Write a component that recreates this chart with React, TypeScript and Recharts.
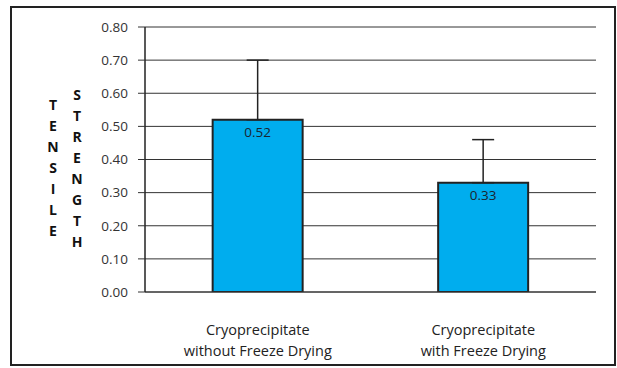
import React from 'react';
import { BarChart, Bar, XAxis, YAxis, CartesianGrid, ErrorBar, LabelList } from 'recharts';

const categories = ['Cryoprecipitate\nwithout Freeze Drying', 'Cryoprecipitate\nwith Freeze Drying'];
const strength = [0.52, 0.33];
const upperError = [0.18, 0.13];
const yTicks = [0, 0.1, 0.2, 0.3, 0.4, 0.5, 0.6, 0.7, 0.8];
const yLabelCols = ['TENSILE', 'STRENGTH'];

const data = categories.map((name, i) => ({
  name,
  value: strength[i],
  err: [0, upperError[i]],
}));

const CategoryTick = (props: any) => {
  const { x, y, payload } = props;
  const lines = String(payload.value).split('\n');
  return (
    <g transform={`translate(${x},${y})`}>
      {lines.map((line, i) => (
        <text
          key={i}
          x={0}
          y={35 + i * 21}
          textAnchor="middle"
          fill="#222"
          fontSize={14.5}
          fontFamily="'Open Sans', sans-serif"
        >
          {line}
        </text>
      ))}
    </g>
  );
};

// stacked letters, one column per word
const StackedLabel = () => (
  <g>
    {yLabelCols.map((word, c) =>
      word.split('').map((ch, i) => (
        <text
          key={`${c}-${i}`}
          x={c === 0 ? 53 : 77}
          y={(c === 0 ? 109.5 : 99.5) + i * 21}
          textAnchor="middle"
          fontSize={14}
          fontWeight="bold"
          fill="#111"
          fontFamily="'Open Sans', sans-serif"
        >
          {ch}
        </text>
      ))
    )}
  </g>
);

export default function App() {
  return (
    <div style={{ position: 'absolute', left: 0, top: 0, width: 617, height: 368, background: '#fff' }}>
      <div
        style={{
          position: 'absolute',
          left: 10,
          top: 6,
          width: 602,
          height: 356,
          border: '2px solid #222',
        }}
      />
      <div style={{ position: 'absolute', left: 0, top: 0 }}>
        <BarChart
          width={617}
          height={368}
          data={data}
          margin={{ top: 27, right: 21, left: 0, bottom: 16 }}
          barCategoryGap="30%"
        >
          <CartesianGrid vertical={false} stroke="#333" strokeWidth={1} />
          <XAxis
            dataKey="name"
            height={60}
            tick={<CategoryTick />}
            tickLine={false}
            axisLine={{ stroke: '#333' }}
            interval={0}
          />
          <YAxis
            width={145}
            domain={[0, 0.8]}
            ticks={yTicks}
            tickFormatter={(v: number) => v.toFixed(2)}
            tick={{ fill: '#333', fontSize: 13.5, fontFamily: "'Open Sans', sans-serif" }}
            tickLine={{ stroke: '#333' }}
            tickSize={7}
            tickMargin={10}
            axisLine={{ stroke: '#222', strokeWidth: 1.5 }}
            label={<StackedLabel />}
            allowDataOverflow
          />
          <Bar dataKey="value" fill="#00ADEE" stroke="#222" strokeWidth={2} isAnimationActive={false}>
            <ErrorBar dataKey="err" direction="y" width={11} stroke="#222" strokeWidth={1.5} />
            <LabelList
              dataKey="value"
              position="insideTop"
              offset={8}
              formatter={(v: any) => Number(v).toFixed(2)}
              fill="#1a2530"
              fontSize={13.5}
              fontFamily="'Open Sans', sans-serif"
            />
          </Bar>
        </BarChart>
      </div>
    </div>
  );
}
